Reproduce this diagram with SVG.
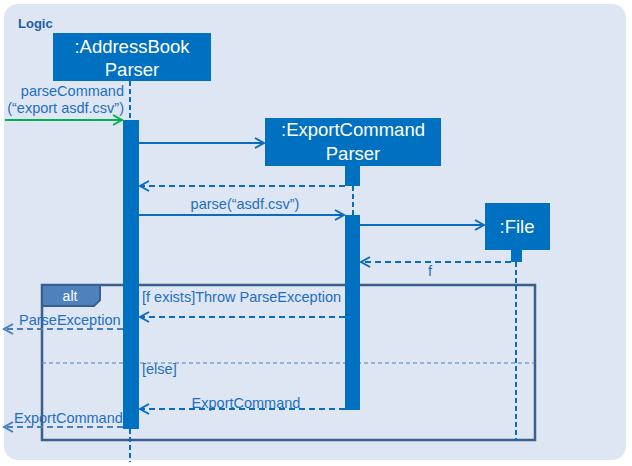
<svg xmlns="http://www.w3.org/2000/svg" width="632" height="466" viewBox="0 0 632 466">
<defs>
<style>
.lbl{font-family:"Liberation Sans",Arial,sans-serif;font-size:14.5px;fill:#1f6fc0}
.box{fill:#0070c0}
.boxt{font-family:"Liberation Sans",Arial,sans-serif;font-size:18.5px;fill:#ffffff;text-anchor:middle}
.msg{stroke:#0a6cc0;stroke-width:2;fill:none}
.ret{stroke:#0a6cc0;stroke-width:2;fill:none;stroke-dasharray:6,4}
.out{stroke:#4a7ebb;stroke-width:2;fill:none;stroke-dasharray:6,4}
.life{stroke:#0a6cc0;stroke-width:2;fill:none;stroke-dasharray:5,3}
</style>
<marker id="ah" markerWidth="12" markerHeight="12" refX="10" refY="6" orient="auto" markerUnits="userSpaceOnUse">
<path d="M1,1 L10,6 L1,11" fill="none" stroke="#0a6cc0" stroke-width="2"/>
</marker>
<marker id="ahg" markerWidth="12" markerHeight="12" refX="10" refY="6" orient="auto" markerUnits="userSpaceOnUse">
<path d="M1,1 L10,6 L1,11" fill="none" stroke="#00b050" stroke-width="2"/>
</marker>
<marker id="aho" markerWidth="12" markerHeight="12" refX="10" refY="6" orient="auto" markerUnits="userSpaceOnUse">
<path d="M1,1 L10,6 L1,11" fill="none" stroke="#4a7ebb" stroke-width="2"/>
</marker>
</defs>
<rect x="0" y="0" width="632" height="466" fill="#ffffff"/>
<rect x="4" y="4" width="622" height="456" rx="14" fill="#dde6f2"/>
<text x="18" y="28" font-family="Liberation Sans,Arial,sans-serif" font-size="13" font-weight="bold" fill="#1f5fa8">Logic</text>

<g id="frame">
<rect x="42" y="285" width="493" height="155" fill="none" stroke="#3a5f8f" stroke-width="2.5"/>
<path d="M42,285 H100 V300 L94,306 H42 Z" fill="#4f81bd" stroke="#3a5f8f" stroke-width="2"/>
<text x="70" y="301" font-family="Liberation Sans,Arial,sans-serif" font-size="14" fill="#ffffff" text-anchor="middle">alt</text>
<line x1="42" y1="363" x2="535" y2="363" stroke="#4a7ebb" stroke-width="1" stroke-dasharray="4,3"/>
<text class="lbl" x="142" y="302">[f exists]Throw ParseException</text>
<text class="lbl" x="142" y="374">[else]</text>
</g>

<g id="addressBookParser">
<rect class="box" x="53" y="33" width="158" height="48"/>
<text class="boxt" x="132" y="53">:AddressBook</text>
<text class="boxt" x="132" y="76">Parser</text>
<line class="life" x1="130" y1="81" x2="130" y2="120"/>
<line class="life" x1="130" y1="429" x2="130" y2="462"/>
<rect class="box" x="123" y="120" width="16" height="309"/>
</g>

<g id="exportCommandParser">
<rect class="box" x="265" y="118" width="176" height="48"/>
<text class="boxt" x="353" y="136">:ExportCommand</text>
<text class="boxt" x="353" y="160">Parser</text>
<rect class="box" x="345" y="166" width="15" height="20"/>
<line class="life" x1="353" y1="186" x2="353" y2="215"/>
<rect class="box" x="345" y="215" width="15" height="195"/>
</g>

<g id="file">
<rect class="box" x="485" y="203" width="65" height="47"/>
<text class="boxt" x="517" y="233">:File</text>
<rect class="box" x="511" y="250" width="11" height="12"/>
<line class="life" x1="516" y1="262" x2="516" y2="440"/>
</g>

<g id="connectors">
<line x1="5" y1="120" x2="122" y2="120" stroke="#00b050" stroke-width="2" marker-end="url(#ahg)"/>
<text class="lbl" x="124" y="96" text-anchor="end">parseCommand</text>
<text class="lbl" x="124" y="113" text-anchor="end">(“export asdf.csv”)</text>
<line class="msg" x1="139" y1="143" x2="264" y2="143" marker-end="url(#ah)"/>
<line class="ret" x1="345" y1="186" x2="140" y2="186" marker-end="url(#ah)"/>
<line class="msg" x1="139" y1="215" x2="344" y2="215" marker-end="url(#ah)"/>
<text class="lbl" x="245" y="209" text-anchor="middle">parse(“asdf.csv”)</text>
<line class="msg" x1="360" y1="225" x2="484" y2="225" marker-end="url(#ah)"/>
<line class="ret" x1="511" y1="262" x2="361" y2="262" marker-end="url(#ah)"/>
<text class="lbl" x="430" y="276" text-anchor="middle">f</text>
<line class="ret" x1="345" y1="317" x2="140" y2="317" marker-end="url(#ah)"/>
<line class="out" x1="123" y1="329" x2="4" y2="329" marker-end="url(#aho)"/>
<text class="lbl" x="19" y="325">ParseException</text>
<line class="ret" x1="345" y1="409" x2="140" y2="409" marker-end="url(#ah)"/>
<text class="lbl" x="246" y="408" text-anchor="middle">ExportCommand</text>
<line class="out" x1="123" y1="427" x2="4" y2="427" marker-end="url(#aho)"/>
<text class="lbl" x="14" y="423">ExportCommand</text>
</g>
</svg>
